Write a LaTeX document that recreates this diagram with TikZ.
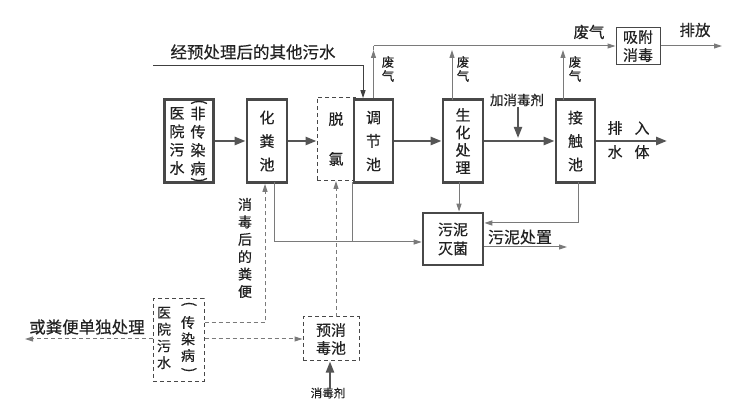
\documentclass[tikz,border=0pt]{standalone}
\usepackage{fontspec}
\setmainfont{Noto Sans CJK SC}[FakeBold=0.4]
\usetikzlibrary{arrows.meta,calc}
\definecolor{boxc}{HTML}{484848}
\definecolor{flowc}{HTML}{555555}
\definecolor{thinc}{HTML}{7A7A7A}
\definecolor{txtc}{HTML}{222222}
\newcommand{\fsz}[2]{\fontsize{#1}{#2}\selectfont}
\begin{document}
\begin{tikzpicture}[x=1pt,y=-1pt,
  every node/.style={text=txtc, inner sep=0pt},
  procbox/.style={draw=boxc, line width=2.8pt, align=center, fill=white},
  dashbox/.style={draw=boxc, line width=1pt, dash pattern=on 4pt off 3pt, align=center},
  thinbox/.style={draw=boxc, line width=1pt, align=center},
  mainflow/.style={draw=flowc, line width=2.5pt, -{Triangle[length=11pt,width=8pt]}},
  thinflow/.style={draw=thinc, line width=1pt, -{Triangle[length=8pt,width=5pt]}},
  thinline/.style={draw=thinc, line width=1pt},
  dashflow/.style={draw=thinc, line width=1pt, dash pattern=on 4pt off 3pt, -{Triangle[length=8pt,width=5pt]}},
  lab/.style={font=\fsz{15.5}{18}},
  smalllab/.style={font=\fsz{12.5}{14}, align=center},
  paren/.style={font=\fsz{16}{16}, rotate=-90},
]
\useasboundingbox[fill=white] (0,0) rectangle (752,419);

% boxes
\node[procbox, minimum width=49pt, minimum height=83pt] (A) at (189,141) {};
\node[font=\fsz{15}{18.3}, align=center] (Al) at (177,141) {医\\院\\污\\水};
\node[font=\fsz{15}{18.3}, align=center] (Ar) at (198,141) {非\\传\\染\\病};
\node[paren] (Ap1) at (199,102) {(};
\node[paren] (Ap2) at (199,180) {)};

\node[procbox, minimum width=40pt, minimum height=83pt, font=\fsz{15}{23.5}] (B) at (267,141) {化\\粪\\池};
\node[dashbox, minimum width=38pt, minimum height=83pt, font=\fsz{15}{40}] (C) at (336,139) {脱\\氯};
\node[procbox, minimum width=39pt, minimum height=83pt, font=\fsz{15}{23.5}] (D) at (373.5,141) {调\\节\\池};
\node[procbox, minimum width=40pt, minimum height=83pt, font=\fsz{15}{17.5}] (E) at (463,141) {生\\化\\处\\理};
\node[procbox, minimum width=39pt, minimum height=83pt, font=\fsz{15}{23.5}] (F) at (575.5,141) {接\\触\\池};
\node[thinbox, minimum width=44pt, minimum height=37pt, font=\fsz{15}{18}] (G) at (638,46) {吸附\\消毒};
\node[procbox, minimum width=60pt, minimum height=52pt, font=\fsz{15}{19}] (H) at (453,239) {污泥\\灭菌};
\node[dashbox, minimum width=51pt, minimum height=82pt] (I) at (178.5,340) {};
\node[font=\fsz{14}{16.7}, align=center] (Il) at (164,338) {医\\院\\污\\水};
\node[font=\fsz{14}{16.5}, align=center] (Ir) at (188,339) {传\\染\\病};
\node[paren, font=\fsz{15}{15}] (Ip1) at (189,304) {(};
\node[paren, font=\fsz{15}{15}] (Ip2) at (189,370) {)};
\node[dashbox, minimum width=56pt, minimum height=44pt, font=\fsz{15}{18}] (J) at (331,339) {预消\\毒池};

% labels
\node[font=\fsz{16.5}{18}] (L1) at (253,52) {经预处理后的其他污水};
\node[lab] (L2) at (589,32) {废气};
\node[lab] (L3) at (695,30) {排放};
\node[smalllab] (L4) at (388,69) {废\\气};
\node[smalllab] (L5) at (463,69) {废\\气};
\node[smalllab] (L6) at (575,69) {废\\气};
\node[font=\fsz{13.5}{15}] (L7) at (517,100) {加消毒剂};
\node[font=\fsz{15}{24}, align=center] (L8) at (628.5,140) {排\hspace{12pt}入\\水\hspace{12pt}体};
\node[font=\fsz{14}{17.4}, align=center] (L9) at (245,248) {消\\毒\\后\\的\\粪\\便};
\node[font=\fsz{16}{18}] (L10) at (520,237) {污泥处置};
\node[font=\fsz{16.5}{18}] (L11) at (87,327) {或粪便单独处理};
\node[font=\fsz{11.5}{13}] (L12) at (328,393) {消毒剂};

% main flow
\draw[mainflow] (A.east) -- (B.west);
\draw[mainflow] (B.east) -- (C.west |- B.east);
\draw[mainflow] (D.east) -- (E.west);
\draw[mainflow] (E.east) -- (F.west);
\coordinate (outend) at (667,141);
\draw[mainflow] (F.east) -- (outend);
\coordinate (jx) at (518,107);
\coordinate (jy) at (518,138);
\draw[mainflow, line width=2pt] (jx) -- (jy);

% exhaust gas
\coordinate (g0) at (373.5,46);
\coordinate (gy) at (0,50);
\draw[thinflow] (D.north) -- (D.north |- gy);
\draw[thinline] (D.north |- gy) -- (g0);
\draw[thinflow] (g0) -- (G.west);
\coordinate (e1) at (452,100);
\draw[thinflow] (e1) -- (e1 |- gy);
\coordinate (f1) at (563,100);
\draw[thinflow] (f1) -- (f1 |- gy);
\coordinate (pf) at (722,46);
\draw[thinflow] (G.east) -- (pf);

% other wastewater
\coordinate (ow0) at (153,66);
\coordinate (ow1) at (363,66);
\draw[draw=black!75, line width=1pt, -{Triangle[length=8pt,width=5pt]}] (ow0) -- (ow1) -- (ow1 |- D.north);

% sludge
\coordinate (b1) at (274,182.5);
\coordinate (hl) at (274,242);
\draw[thinflow] (b1) -- (hl) -- (H.west |- hl);
\coordinate (d1) at (352,182.5);
\draw[thinline] (d1) -- (d1 |- hl);
\coordinate (e2) at (459,182.5);
\draw[thinflow] (e2) -- (e2 |- H.north);
\coordinate (f2) at (578,182.5);
\coordinate (f3) at (578,223);
\draw[thinflow] (f2) -- (f3) -- (H.east |- f3);
\coordinate (sd) at (567,247);
\draw[thinflow] (H.east |- sd) -- (sd);

% infectious branch
\coordinate (ib) at (265,323);
\draw[dashflow] (I.east |- ib) -- (ib) -- (ib |- B.south);
\draw[dashflow] (I.east |- J.west) -- (J.west);
\coordinate (jt) at (336,317);
\draw[dashflow] (jt) -- (jt |- C.south);
\coordinate (lo) at (25,339);
\draw[dashflow] (I.west |- lo) -- (lo);
\coordinate (xd) at (330,389);
\draw[mainflow, line width=2pt] (xd) -- (xd |- J.south);
\end{tikzpicture}
\end{document}
